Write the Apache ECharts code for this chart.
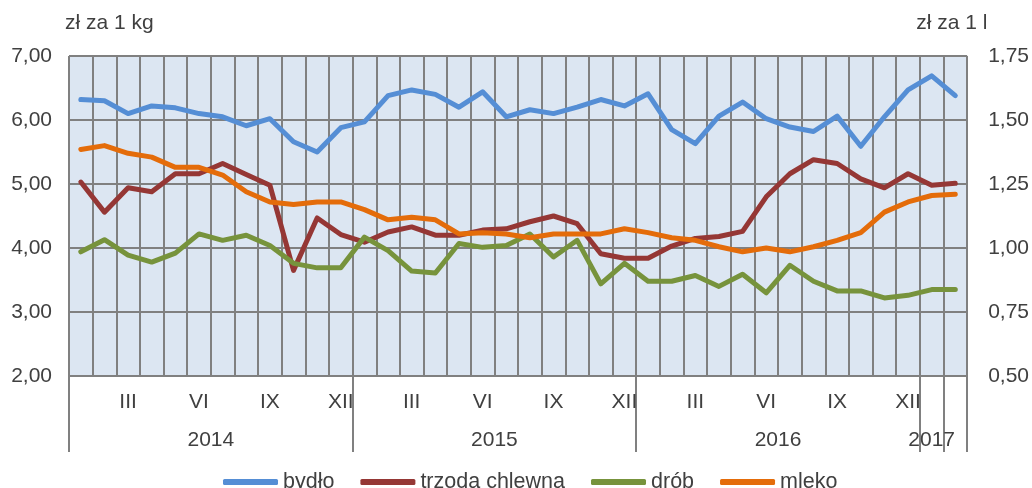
<!DOCTYPE html>
<html>
<head>
<meta charset="utf-8">
<script src="https://cdn.jsdelivr.net/npm/echarts@6/dist/echarts.min.js"></script>
<style>
  html, body { margin: 0; padding: 0; background: #fff; }
  #chart { width: 1032px; height: 488px; }
</style>
</head>
<body>
<div id="chart"></div>
<script>
// miesiące: I 2014 .. II 2017
const months = [
  'I','II','III','IV','V','VI','VII','VIII','IX','X','XI','XII',
  'I','II','III','IV','V','VI','VII','VIII','IX','X','XI','XII',
  'I','II','III','IV','V','VI','VII','VIII','IX','X','XI','XII',
  'I','II'
];
// grupy lat na osi (liczba miesięcy w grupie)
const yearNames = ['2014', '2015', '2016', '2017', ''];
const yearSpans = [12, 12, 12, 1, 1];

// zł za 1 kg
const bydlo = [
  6.32, 6.30, 6.10, 6.22, 6.19, 6.10, 6.05, 5.91, 6.02, 5.66, 5.50, 5.88,
  5.97, 6.38, 6.47, 6.40, 6.20, 6.44, 6.05, 6.16, 6.10, 6.20, 6.32, 6.22,
  6.41, 5.85, 5.63, 6.06, 6.28, 6.02, 5.89, 5.82, 6.06, 5.59, 6.05, 6.47,
  6.69, 6.38
];
const trzoda = [
  5.03, 4.56, 4.94, 4.88, 5.16, 5.16, 5.32, 5.15, 4.98, 3.65, 4.47, 4.21,
  4.09, 4.25, 4.33, 4.20, 4.20, 4.28, 4.30, 4.41, 4.50, 4.38, 3.91, 3.84,
  3.84, 4.03, 4.15, 4.18, 4.26, 4.80, 5.16, 5.38, 5.32, 5.08, 4.94, 5.16,
  4.98, 5.01
];
const drob = [
  3.94, 4.13, 3.89, 3.78, 3.92, 4.22, 4.12, 4.20, 4.04, 3.76, 3.69, 3.69,
  4.17, 3.96, 3.64, 3.61, 4.07, 4.01, 4.04, 4.22, 3.86, 4.12, 3.44, 3.76,
  3.48, 3.48, 3.57, 3.40, 3.59, 3.30, 3.73, 3.48, 3.33, 3.33, 3.22, 3.26,
  3.35, 3.35
];
// zł za 1 l
const mleko = [
  1.385, 1.40, 1.37, 1.355, 1.315, 1.315, 1.285, 1.22, 1.18, 1.17, 1.18, 1.18,
  1.15, 1.11, 1.12, 1.11, 1.055, 1.06, 1.055, 1.04, 1.055, 1.055, 1.055, 1.075,
  1.06, 1.04, 1.03, 1.005, 0.985, 1.00, 0.985, 1.005, 1.03, 1.06, 1.14, 1.18,
  1.205, 1.21
];

// granice i środki grup lat
const yearBounds = [0];
const yearCenters = [];
yearSpans.forEach((s, i) => {
  yearCenters.push(yearBounds[i] + s / 2);
  yearBounds.push(yearBounds[i] + s);
});

const FONT = '"Liberation Sans", Arial, sans-serif';
const FS = 21;
const TXT = '#404040';
const GRID = '#808080';
const fmt = v => v.toFixed(2).replace('.', ',');

const chart = echarts.init(document.getElementById('chart'), null, { renderer: 'canvas' });

chart.setOption({
  animation: false,
  textStyle: { fontFamily: FONT, color: TXT },
  grid: {
    left: 69, right: 63, top: 56, bottom: 112,
    show: true, backgroundColor: '#DCE6F2', borderWidth: 0
  },
  legend: {
    left: 218, top: 466,
    itemWidth: 55, itemHeight: 6, itemGap: 26,
    icon: 'roundRect',
    textStyle: { fontFamily: FONT, fontSize: 21.5, color: TXT },
    data: ['bydło', 'trzoda chlewna', 'drób', 'mleko']
  },
  xAxis: [
    {
      type: 'category',
      data: months,
      boundaryGap: true,
      axisLine: { show: true, lineStyle: { color: GRID, width: 2 } },
      axisTick: { show: false },
      axisLabel: {
        interval: i => i % 3 === 2 && i < 36,
        margin: 16,
        fontSize: FS, color: TXT, fontFamily: FONT
      },
      splitLine: { show: true, interval: 0, lineStyle: { color: GRID, width: 2 } }
    },
    {
      type: 'value',
      position: 'bottom',
      min: 0, max: yearBounds[yearBounds.length - 1],
      axisLine: { show: false },
      splitLine: { show: false },
      axisTick: {
        show: true, customValues: yearBounds, length: 76,
        lineStyle: { color: GRID, width: 2 }
      },
      axisLabel: {
        customValues: yearCenters,
        formatter: v => {
          const k = yearCenters.indexOf(v);
          return k >= 0 ? yearNames[k] : '';
        },
        margin: 54,
        fontSize: FS, color: TXT, fontFamily: FONT
      }
    }
  ],
  yAxis: [
    {
      type: 'value',
      min: 2, max: 7, interval: 1,
      name: 'zł za 1 kg',
      nameLocation: 'end',
      nameGap: 22,
      nameTextStyle: { fontSize: FS, color: TXT, fontFamily: FONT, align: 'left', padding: [0, 0, 0, -4] },
      axisLine: { show: false },
      axisTick: { show: false },
      axisLabel: { formatter: fmt, margin: 17, fontSize: FS, color: TXT, fontFamily: FONT },
      splitLine: { show: true, lineStyle: { color: GRID, width: 2 } }
    },
    {
      type: 'value',
      min: 0.5, max: 1.75, interval: 0.25,
      name: 'zł za 1 l',
      nameLocation: 'end',
      nameGap: 22,
      nameTextStyle: { fontSize: FS, color: TXT, fontFamily: FONT, align: 'left', padding: [0, 0, 0, -51] },
      axisLine: { show: false },
      axisTick: { show: false },
      axisLabel: { formatter: fmt, margin: 21, fontSize: FS, color: TXT, fontFamily: FONT },
      splitLine: { show: false }
    }
  ],
  series: [
    { name: 'bydło', type: 'line', data: bydlo, color: '#558ED5' },
    { name: 'trzoda chlewna', type: 'line', data: trzoda, color: '#953735' },
    { name: 'drób', type: 'line', data: drob, color: '#77933C' },
    { name: 'mleko', type: 'line', data: mleko, yAxisIndex: 1, color: '#E46C0A' }
  ].map(s => Object.assign(s, {
    xAxisIndex: 0,
    showSymbol: false,
    symbol: 'none',
    lineStyle: { width: 5, cap: 'round', join: 'round' }
  }))
});
</script>
</body>
</html>
